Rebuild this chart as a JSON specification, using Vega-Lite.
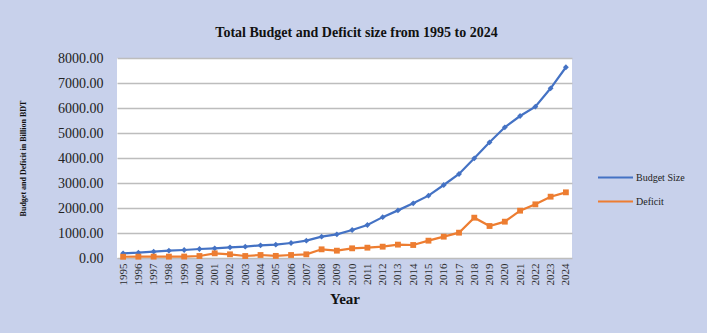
{
  "$schema": "https://vega.github.io/schema/vega-lite/v6.json",
  "width": 455,
  "height": 200,
  "autosize": {"type": "none"},
  "padding": {"left": 117, "top": 58, "right": 135, "bottom": 75},
  "background": "#c8d1eb",
  "title": {
    "text": "Total Budget and Deficit size from 1995 to 2024",
    "font": "Liberation Serif",
    "fontSize": 14,
    "fontWeight": "bold",
    "color": "#111111",
    "anchor": "middle",
    "dx": 12,
    "offset": 11
  },
  "config": {
    "view": {"stroke": null, "fill": "#ffffff"},
    "font": "Liberation Serif"
  },
  "data": {
    "values": [
      {"year": "1995", "series": "Budget Size", "value": 187},
      {"year": "1996", "series": "Budget Size", "value": 213},
      {"year": "1997", "series": "Budget Size", "value": 253},
      {"year": "1998", "series": "Budget Size", "value": 293},
      {"year": "1999", "series": "Budget Size", "value": 320},
      {"year": "2000", "series": "Budget Size", "value": 360},
      {"year": "2001", "series": "Budget Size", "value": 387},
      {"year": "2002", "series": "Budget Size", "value": 427},
      {"year": "2003", "series": "Budget Size", "value": 453},
      {"year": "2004", "series": "Budget Size", "value": 507},
      {"year": "2005", "series": "Budget Size", "value": 533},
      {"year": "2006", "series": "Budget Size", "value": 600},
      {"year": "2007", "series": "Budget Size", "value": 693},
      {"year": "2008", "series": "Budget Size", "value": 853},
      {"year": "2009", "series": "Budget Size", "value": 947},
      {"year": "2010", "series": "Budget Size", "value": 1120},
      {"year": "2011", "series": "Budget Size", "value": 1320},
      {"year": "2012", "series": "Budget Size", "value": 1635},
      {"year": "2013", "series": "Budget Size", "value": 1905},
      {"year": "2014", "series": "Budget Size", "value": 2187},
      {"year": "2015", "series": "Budget Size", "value": 2493},
      {"year": "2016", "series": "Budget Size", "value": 2920},
      {"year": "2017", "series": "Budget Size", "value": 3360},
      {"year": "2018", "series": "Budget Size", "value": 3987},
      {"year": "2019", "series": "Budget Size", "value": 4627},
      {"year": "2020", "series": "Budget Size", "value": 5227},
      {"year": "2021", "series": "Budget Size", "value": 5680},
      {"year": "2022", "series": "Budget Size", "value": 6053},
      {"year": "2023", "series": "Budget Size", "value": 6787},
      {"year": "2024", "series": "Budget Size", "value": 7630},
      {"year": "1995", "series": "Deficit", "value": 50},
      {"year": "1996", "series": "Deficit", "value": 53},
      {"year": "1997", "series": "Deficit", "value": 55},
      {"year": "1998", "series": "Deficit", "value": 55},
      {"year": "1999", "series": "Deficit", "value": 58},
      {"year": "2000", "series": "Deficit", "value": 80},
      {"year": "2001", "series": "Deficit", "value": 187},
      {"year": "2002", "series": "Deficit", "value": 147},
      {"year": "2003", "series": "Deficit", "value": 80},
      {"year": "2004", "series": "Deficit", "value": 120},
      {"year": "2005", "series": "Deficit", "value": 85},
      {"year": "2006", "series": "Deficit", "value": 120},
      {"year": "2007", "series": "Deficit", "value": 147},
      {"year": "2008", "series": "Deficit", "value": 347},
      {"year": "2009", "series": "Deficit", "value": 293},
      {"year": "2010", "series": "Deficit", "value": 387},
      {"year": "2011", "series": "Deficit", "value": 413},
      {"year": "2012", "series": "Deficit", "value": 453},
      {"year": "2013", "series": "Deficit", "value": 535},
      {"year": "2014", "series": "Deficit", "value": 520},
      {"year": "2015", "series": "Deficit", "value": 693},
      {"year": "2016", "series": "Deficit", "value": 853},
      {"year": "2017", "series": "Deficit", "value": 1013},
      {"year": "2018", "series": "Deficit", "value": 1613},
      {"year": "2019", "series": "Deficit", "value": 1280},
      {"year": "2020", "series": "Deficit", "value": 1453},
      {"year": "2021", "series": "Deficit", "value": 1893},
      {"year": "2022", "series": "Deficit", "value": 2147},
      {"year": "2023", "series": "Deficit", "value": 2453},
      {"year": "2024", "series": "Deficit", "value": 2627}
    ]
  },
  "encoding": {
    "x": {
      "field": "year",
      "type": "ordinal",
      "scale": {"type": "point", "padding": 0.4},
      "axis": {
        "title": "Year",
        "titleFont": "Liberation Serif",
        "titleFontSize": 15,
        "titleFontWeight": "bold",
        "titleColor": "#111111",
        "titlePadding": 6,
        "labelAngle": -90,
        "labelFont": "Liberation Serif",
        "labelFontSize": 11,
        "labelColor": "#2a2a2a",
        "labelPadding": 5,
        "ticks": false,
        "domain": false,
        "grid": false
      }
    },
    "y": {
      "field": "value",
      "type": "quantitative",
      "scale": {"domain": [0, 8000], "nice": false},
      "axis": {
        "title": "Budget and Deficit in Billion BDT",
        "titleFont": "Liberation Serif",
        "titleFontSize": 8,
        "titleFontWeight": "bold",
        "titleColor": "#111111",
        "titlePadding": 30,
        "values": [0, 1000, 2000, 3000, 4000, 5000, 6000, 7000, 8000],
        "format": ".2f",
        "labelFont": "Liberation Serif",
        "labelFontSize": 14,
        "labelColor": "#222222",
        "labelPadding": 14,
        "ticks": false,
        "domain": false,
        "grid": true,
        "gridColor": "#bdbdbd",
        "gridWidth": 1.5
      }
    }
  },
  "layer": [
    {
      "mark": {"type": "line", "strokeWidth": 2.2},
      "encoding": {
        "color": {
          "field": "series",
          "type": "nominal",
          "scale": {"domain": ["Budget Size", "Deficit"], "range": ["#4472c4", "#ed7d31"]},
          "legend": {
            "title": null,
            "orient": "none",
            "legendX": 480,
            "legendY": 101,
            "symbolType": "stroke",
            "symbolSize": 1225,
            "symbolStrokeWidth": 2,
            "labelFont": "Liberation Serif",
            "labelFontSize": 10,
            "labelColor": "#222222",
            "labelOffset": 2,
            "rowPadding": -14
          }
        }
      }
    },
    {
      "transform": [{"filter": "datum.series === 'Budget Size'"}],
      "mark": {"type": "point", "filled": true, "opacity": 1, "shape": "diamond", "color": "#4472c4", "size": 34},
      "encoding": {}
    },
    {
      "transform": [{"filter": "datum.series === 'Deficit'"}],
      "mark": {"type": "point", "filled": true, "opacity": 1, "shape": "square", "color": "#ed7d31", "size": 34},
      "encoding": {}
    }
  ]
}
